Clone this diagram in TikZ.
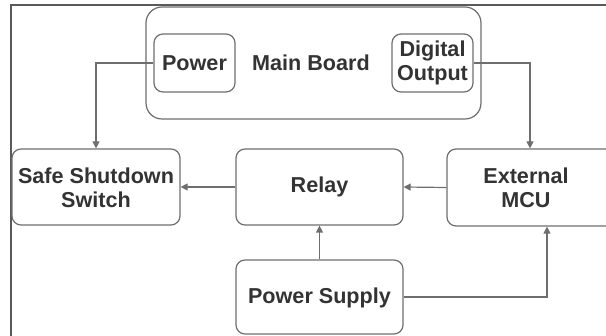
\documentclass[tikz,border=0pt]{standalone}
\usepackage{fontspec}
\setmainfont{Liberation Sans}
\usetikzlibrary{arrows.meta}
\definecolor{edgegray}{HTML}{6E6E6E}
\definecolor{framegray}{HTML}{5A5A5A}
\definecolor{textgray}{HTML}{333333}
\begin{document}
\begin{tikzpicture}[x=1pt,y=-1pt,
  box/.style={draw=edgegray, line width=1.2pt, rounded corners=9pt, inner sep=0pt},
  lbl/.style={text=textgray, font=\fontsize{21.6}{24}\selectfont\bfseries, align=center, inner sep=0pt},
  link/.style={draw=edgegray, line width=1.2pt, -{Triangle[length=7pt,width=7pt]}}]
  \useasboundingbox (0,0) rectangle (606,336);

  % outer frame (top and left edges)
  \draw[framegray, line width=1.4pt] (11,336) -- (11,5) -- (606,5);

  % main board with its two sub-blocks
  \node[box, rounded corners=16pt, minimum width=335pt, minimum height=112pt] (mb) at (313.5,63) {};
  \node[lbl] (mbl) at (311,63) {Main Board};
  \node[box, minimum width=81pt, minimum height=58pt] (pw) at (194.5,63) {};
  \node[lbl] (pwl) at (194.5,63) {Power};
  \node[box, minimum width=81pt, minimum height=58pt] (do) at (432.5,63) {};
  \node[lbl] (dol) at (432.5,63) {Digital\\Output};

  % middle row
  \node[box, minimum width=168pt, minimum height=76pt] (sw) at (96,187) {};
  \node[lbl] (swl) at (96,188) {Safe Shutdown\\Switch};
  \node[box, minimum width=167pt, minimum height=76pt] (rl) at (319.5,187) {};
  \node[lbl] (rll) at (319.5,187) {Relay};

  % the controller block runs past the right edge, so it is clipped there
  \begin{scope}
    \clip (0,0) rectangle (606,336);
    \node[box, minimum width=220pt, minimum height=77pt] (mcu) at (557,187.5) {};
  \end{scope}
  \node[lbl] (mcul) at (526,188) {External\\MCU};

  % supply
  \node[box, minimum width=167pt, minimum height=74pt] (ps) at (319.5,297) {};
  \node[lbl] (psl) at (319.5,298) {Power Supply};

  % connections
  \draw[link] (pw.west) -| (sw.north);
  \draw[link] (do.east) -| ([xshift=-27pt]mcu.north);
  \draw[link] (rl.west) -- (sw.east);
  \draw[link] (mcu.west) -- (rl.east);
  \draw[link] (ps.north) -- (rl.south);
  \draw[link] (ps.east) -| ([xshift=-10pt]mcu.south);
\end{tikzpicture}
\end{document}
